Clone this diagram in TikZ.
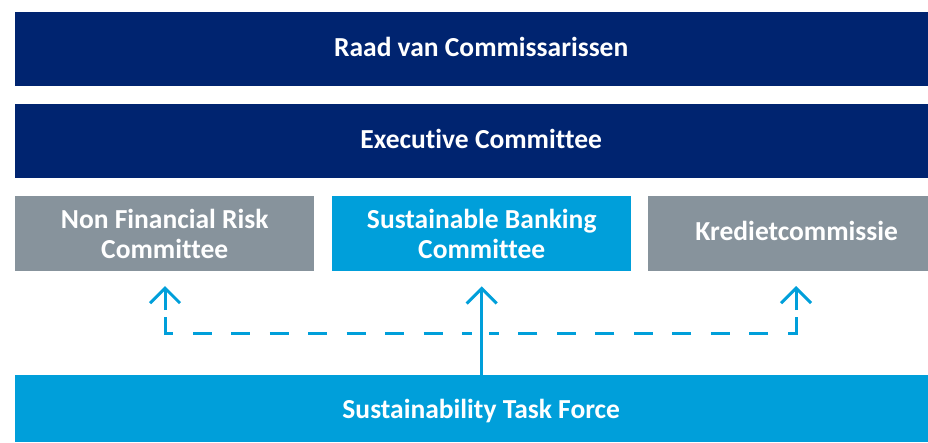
\documentclass[tikz,border=0pt]{standalone}
\usepackage{fontspec}
\setmainfont[Ligatures=NoCommon]{Carlito}
\usetikzlibrary{arrows.meta}
\definecolor{navy}{RGB}{0,36,112}
\definecolor{abnblue}{RGB}{0,159,218}
\definecolor{abngray}{RGB}{135,147,156}
\tikzset{
  box/.style={anchor=north west, inner sep=0pt, text=white, align=center,
    font=\bfseries\fontsize{27.5}{30}\selectfont},
  oneline/.style={text height=18pt, text depth=4pt},
  conn/.style={draw=abnblue, line width=3pt},
  arr/.style={conn, -{Straight Barb[length=15pt, width=30pt]}},
  dashline/.style={conn, dash pattern=on 19pt off 19.43pt},
}
\begin{document}
\begin{tikzpicture}[x=1pt,y=-1pt]
\useasboundingbox (0,0) rectangle (928,442);
\node[box, oneline, fill=navy, minimum width=932pt, minimum height=74pt] (rvc) at (15,12) {Raad van Commissarissen};
\node[box, oneline, fill=navy, minimum width=932pt, minimum height=74pt] (exc) at (15,104) {Executive Committee};
\node[box, fill=abngray, minimum width=299pt, minimum height=75pt] (nfr) at (15,196) {Non Financial Risk\\Committee};
\node[box, fill=abnblue, minimum width=299pt, minimum height=75pt] (sbc) at (332,196) {Sustainable Banking\\Committee};
\node[box, oneline, fill=abngray, minimum width=297pt, minimum height=75pt] (kc) at (648,196) {Kredietcommissie};
\node[box, text height=19pt, text depth=0pt, fill=abnblue, minimum width=932pt, minimum height=67pt] (stf) at (15,375) {Sustainability Task Force};
\coordinate (l1) at (165,310);
\coordinate (l2) at (165,317);
\coordinate (lc) at (165,333);
\coordinate (lce) at (173,333);
\coordinate (lds) at (193,333);
\coordinate (lde) at (472,333);
\coordinate (r1) at (796,310);
\coordinate (r2) at (796,317);
\coordinate (rc) at (796,333);
\coordinate (rce) at (788,333);
\coordinate (rds) at (768,333);
\coordinate (rde) at (489,333);
\coordinate (rt) at (796,271);
\coordinate (lt) at (165,271);
\draw[arr, shorten >=15pt] (l1) -- (lt);
\draw[arr, shorten >=15pt] (r1) -- (rt);
\draw[arr, shorten >=15pt] (stf.north -| sbc.south) -- (sbc.south);
\draw[conn] (l2) -- (lc) -- (lce);
\draw[conn] (r2) -- (rc) -- (rce);
\draw[dashline] (lds) -- (lde);
\draw[dashline] (rds) -- (rde);
\end{tikzpicture}
\end{document}
